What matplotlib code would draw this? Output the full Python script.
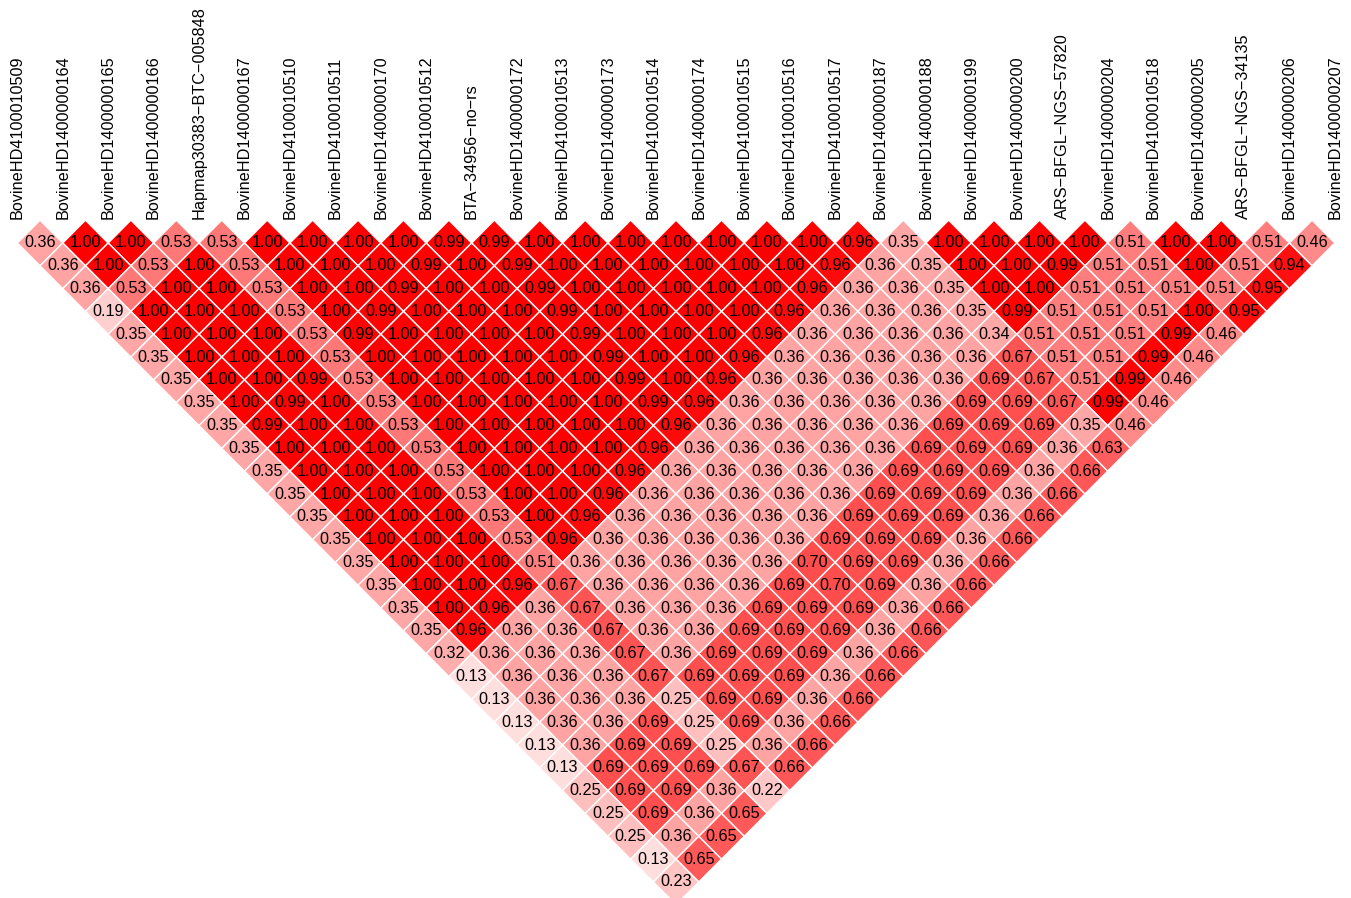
import matplotlib
matplotlib.use("Agg")
import matplotlib.pyplot as plt
from matplotlib.collections import PolyCollection
from matplotlib.colors import LinearSegmentedColormap, Normalize

plt.rcParams["font.family"] = ["Liberation Sans", "DejaVu Sans"]

markers = [
    "BovineHD4100010509", "BovineHD1400000164", "BovineHD1400000165",
    "BovineHD1400000166", "Hapmap30383\u2212BTC\u2212005848", "BovineHD1400000167",
    "BovineHD4100010510", "BovineHD4100010511", "BovineHD1400000170",
    "BovineHD4100010512", "BTA\u221234956\u2212no\u2212rs", "BovineHD1400000172",
    "BovineHD4100010513", "BovineHD1400000173", "BovineHD4100010514",
    "BovineHD1400000174", "BovineHD4100010515", "BovineHD4100010516",
    "BovineHD4100010517", "BovineHD1400000187", "BovineHD1400000188",
    "BovineHD1400000199", "BovineHD1400000200", "ARS\u2212BFGL\u2212NGS\u221257820",
    "BovineHD1400000204", "BovineHD4100010518", "BovineHD1400000205",
    "ARS\u2212BFGL\u2212NGS\u221234135", "BovineHD1400000206", "BovineHD1400000207",
]

# D' values by diagonal: entry k holds pairs (i, i+k+1)
dprime_diagonals = [
    [0.36, 1, 1, 0.53, 0.53, 1, 1, 1, 1, 0.99, 0.99, 1, 1, 1, 1, 1, 1, 1, 0.96, 0.35, 1, 1, 1, 1, 0.51, 1, 1, 0.51, 0.46],
    [0.36, 1, 0.53, 1, 0.53, 1, 1, 1, 0.99, 1, 0.99, 1, 1, 1, 1, 1, 1, 0.96, 0.36, 0.35, 1, 1, 0.99, 0.51, 0.51, 1, 0.51, 0.94],
    [0.36, 0.53, 1, 1, 0.53, 1, 1, 0.99, 1, 1, 0.99, 1, 1, 1, 1, 1, 0.96, 0.36, 0.36, 0.35, 1, 1, 0.51, 0.51, 0.51, 0.51, 0.95],
    [0.19, 1, 1, 1, 0.53, 1, 0.99, 1, 1, 1, 0.99, 1, 1, 1, 1, 0.96, 0.36, 0.36, 0.36, 0.35, 0.99, 0.51, 0.51, 0.51, 1, 0.95],
    [0.35, 1, 1, 1, 0.53, 0.99, 1, 1, 1, 1, 0.99, 1, 1, 1, 0.96, 0.36, 0.36, 0.36, 0.36, 0.34, 0.51, 0.51, 0.51, 0.99, 0.46],
    [0.35, 1, 1, 1, 0.53, 1, 1, 1, 1, 1, 0.99, 1, 1, 0.96, 0.36, 0.36, 0.36, 0.36, 0.36, 0.67, 0.51, 0.51, 0.99, 0.46],
    [0.35, 1, 1, 0.99, 0.53, 1, 1, 1, 1, 1, 0.99, 1, 0.96, 0.36, 0.36, 0.36, 0.36, 0.36, 0.69, 0.67, 0.51, 0.99, 0.46],
    [0.35, 1, 0.99, 1, 0.53, 1, 1, 1, 1, 1, 0.99, 0.96, 0.36, 0.36, 0.36, 0.36, 0.36, 0.69, 0.69, 0.67, 0.99, 0.46],
    [0.35, 0.99, 1, 1, 0.53, 1, 1, 1, 1, 1, 0.96, 0.36, 0.36, 0.36, 0.36, 0.36, 0.69, 0.69, 0.69, 0.35, 0.46],
    [0.35, 1, 1, 1, 0.53, 1, 1, 1, 1, 0.96, 0.36, 0.36, 0.36, 0.36, 0.36, 0.69, 0.69, 0.69, 0.36, 0.63],
    [0.35, 1, 1, 1, 0.53, 1, 1, 1, 0.96, 0.36, 0.36, 0.36, 0.36, 0.36, 0.69, 0.69, 0.69, 0.36, 0.66],
    [0.35, 1, 1, 1, 0.53, 1, 1, 0.96, 0.36, 0.36, 0.36, 0.36, 0.36, 0.69, 0.69, 0.69, 0.36, 0.66],
    [0.35, 1, 1, 1, 0.53, 1, 0.96, 0.36, 0.36, 0.36, 0.36, 0.36, 0.69, 0.69, 0.69, 0.36, 0.66],
    [0.35, 1, 1, 1, 0.53, 0.96, 0.36, 0.36, 0.36, 0.36, 0.36, 0.69, 0.69, 0.69, 0.36, 0.66],
    [0.35, 1, 1, 1, 0.51, 0.36, 0.36, 0.36, 0.36, 0.36, 0.70, 0.69, 0.69, 0.36, 0.66],
    [0.35, 1, 1, 0.96, 0.67, 0.36, 0.36, 0.36, 0.36, 0.69, 0.70, 0.69, 0.36, 0.66],
    [0.35, 1, 0.96, 0.36, 0.67, 0.36, 0.36, 0.36, 0.69, 0.69, 0.69, 0.36, 0.66],
    [0.35, 0.96, 0.36, 0.36, 0.67, 0.36, 0.36, 0.69, 0.69, 0.69, 0.36, 0.66],
    [0.32, 0.36, 0.36, 0.36, 0.67, 0.36, 0.69, 0.69, 0.69, 0.36, 0.66],
    [0.13, 0.36, 0.36, 0.36, 0.67, 0.69, 0.69, 0.69, 0.36, 0.66],
    [0.13, 0.36, 0.36, 0.36, 0.25, 0.69, 0.69, 0.36, 0.66],
    [0.13, 0.36, 0.36, 0.69, 0.25, 0.69, 0.36, 0.66],
    [0.13, 0.36, 0.69, 0.69, 0.25, 0.36, 0.66],
    [0.13, 0.69, 0.69, 0.69, 0.67, 0.66],
    [0.25, 0.69, 0.69, 0.36, 0.22],
    [0.25, 0.69, 0.36, 0.65],
    [0.25, 0.36, 0.65],
    [0.13, 0.65],
    [0.23],
]

cmap = LinearSegmentedColormap.from_list("ld", ["#ffffff", "#ff0000"])

fig = plt.figure(figsize=(13.51, 8.98), dpi=100)
ax = fig.add_axes([0, 0, 1, 1])

verts, vals, centers = [], [], []
for k, diag in enumerate(dprime_diagonals):
    for i, v in enumerate(diag):
        a, b = i, i + k + 1
        cx, cy = (a + b) / 2, -(b - a - 1) / 2
        verts.append([(cx - 0.5, cy), (cx, cy + 0.5), (cx + 0.5, cy), (cx, cy - 0.5)])
        vals.append(v)
        centers.append((cx, cy))

cells = PolyCollection(verts, array=vals, cmap=cmap, norm=Normalize(0, 1),
                       edgecolors="white", linewidths=1.0)
ax.add_collection(cells)

for (cx, cy), v in zip(centers, vals):
    ax.text(cx, cy, f"{v:.2f}", ha="center", va="center", fontsize=11.7, color="black")

for j, name in enumerate(markers):
    ax.text(j, 0.52, name, rotation=90, ha="center", va="bottom", fontsize=11.7)

ax.set_xlim(-0.381, 29.357)
ax.set_ylim(-14.351, 5.324)
ax.axis("off")

fig.savefig("out.png", dpi=100, facecolor="white")
